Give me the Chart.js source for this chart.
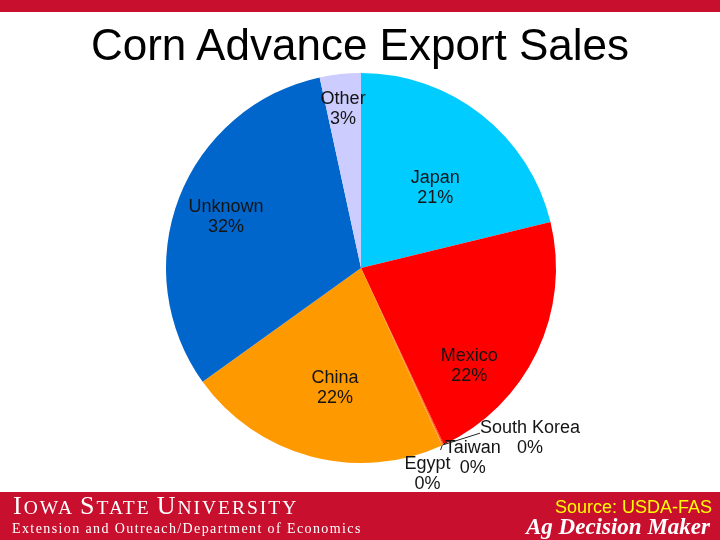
<!DOCTYPE html>
<html>
<head>
<meta charset="utf-8">
<script src="https://cdn.jsdelivr.net/npm/chart.js@4"></script>
<style>
  html, body { margin: 0; padding: 0; width: 720px; height: 540px; overflow: hidden; background: #ffffff; }
  #wrap { position: relative; width: 720px; height: 540px; }
  #topbar { position: absolute; left: 0; top: 0; width: 720px; height: 12px; background: #C8102E; }
  #title { position: absolute; left: 0; top: 20px; width: 720px; text-align: center;
           font-family: "Liberation Sans", Arial, sans-serif; font-size: 44px; color: #000; line-height: 50px; }
  canvas { position: absolute; left: 0; top: 0; }
  #footer { position: absolute; left: 0; top: 492px; width: 720px; height: 48px; background: #C8102E; }
  #isu { position: absolute; left: 13px; top: 0px; font-family: "Liberation Serif", "Times New Roman", serif;
         color: #fff; line-height: 28px; letter-spacing: 2px; white-space: nowrap; }
  #isu .b { font-size: 26px; }
  #isu .s { font-size: 19.5px; }
  #ext { position: absolute; left: 12px; top: 28px; font-family: "Liberation Serif", "Times New Roman", serif;
         font-size: 14px; color: #fff; line-height: 18px; letter-spacing: 1.4px; white-space: nowrap; }
  #src { position: absolute; right: 8px; top: 5px; font-family: "Liberation Sans", Arial, sans-serif;
         font-size: 18px; color: #FFFF00; line-height: 20px; }
  #adm { position: absolute; right: 10px; top: 22px; font-family: "Liberation Serif", "Times New Roman", serif;
         font-size: 23px; font-weight: bold; font-style: italic; color: #fff; line-height: 26px; }
</style>
</head>
<body>
<div id="wrap">
  <canvas id="c" width="720" height="540"></canvas>
  <div id="topbar"></div>
  <div id="title">Corn Advance Export Sales</div>
  <div id="footer">
    <div id="isu"><span class="b">I</span><span class="s">OWA</span> <span class="b">S</span><span class="s">TATE</span> <span class="b">U</span><span class="s">NIVERSITY</span></div>
    <div id="ext">Extension and Outreach/Department of Economics</div>
    <div id="src">Source: USDA-FAS</div>
    <div id="adm">Ag Decision Maker</div>
  </div>
</div>
<script>
// ---- data ----
const categories = ["Japan", "Mexico", "South Korea", "Taiwan", "Egypt", "China", "Unknown", "Other"];
const shares = [21.2, 21.8, 0.08, 0.05, 0.04, 21.9, 31.5, 3.4];
const sliceColors = ["#00CCFF", "#FF0000", "#FF3300", "#FF6600", "#FF8800", "#FF9900", "#0066CC", "#CCCCFF"];

// label placement (style): angle offset from slice middle (deg, clockwise), radius as fraction of outer radius
const labelPlacement = {
  "Japan":       { dAng: 4.6,   frac: 0.56 },
  "Mexico":      { dAng: 16.6,  frac: 0.75 },
  "South Korea": { dAng: -19.8, frac: 1.23 },
  "Taiwan":      { dAng: -5.7,  frac: 1.13 },
  "Egypt":       { dAng: 6.7,   frac: 1.11 },
  "China":       { dAng: -2.7,  frac: 0.63 },
  "Unknown":     { dAng: -0.3,  frac: 0.74 },
  "Other":       { dAng: -0.3,  frac: 0.82 }
};
const leaderEnds = {
  "South Korea": { dx: -50, dy: -5 },
  "Taiwan":      { dx: -26, dy: -16 },
  "Egypt":       { dx: 13, dy: -24 }
};

const labelPlugin = {
  id: 'sliceLabels',
  afterDatasetsDraw(chart) {
    const ctx = chart.ctx;
    const meta = chart.getDatasetMeta(0);
    const data = chart.data.datasets[0].data;
    const total = data.reduce((a, b) => a + b, 0);
    ctx.save();
    ctx.font = '18px "Liberation Sans", Arial, sans-serif';
    ctx.fillStyle = '#141414';
    ctx.textAlign = 'center';
    ctx.textBaseline = 'middle';
    meta.data.forEach((arc, i) => {
      const p = arc.getProps(['x', 'y', 'startAngle', 'endAngle', 'outerRadius'], true);
      const name = chart.data.labels[i];
      const pl = labelPlacement[name];
      const mid = (p.startAngle + p.endAngle) / 2 + pl.dAng * Math.PI / 180;
      const lx = p.x + Math.cos(mid) * p.outerRadius * pl.frac;
      const ly = p.y + Math.sin(mid) * p.outerRadius * pl.frac;
      const pct = Math.round(data[i] / total * 100) + '%';
      ctx.fillText(name, lx, ly - 10);
      ctx.fillText(pct, lx, ly + 10);
      if (leaderEnds[name]) {
        const m0 = (p.startAngle + p.endAngle) / 2;
        const ex = p.x + Math.cos(m0) * p.outerRadius;
        const ey = p.y + Math.sin(m0) * p.outerRadius;
        const le = leaderEnds[name];
        ctx.beginPath();
        ctx.strokeStyle = '#222';
        ctx.lineWidth = 1;
        ctx.moveTo(ex, ey);
        ctx.lineTo(lx + le.dx, ly + le.dy);
        ctx.stroke();
      }
    });
    ctx.restore();
  }
};

new Chart(document.getElementById('c'), {
  type: 'pie',
  data: {
    labels: categories,
    datasets: [{
      data: shares,
      backgroundColor: sliceColors,
      borderWidth: 0
    }]
  },
  options: {
    responsive: false,
    animation: false,
    layout: { padding: { left: 166, right: 164, top: 73, bottom: 77 } },
    plugins: { legend: { display: false }, tooltip: { enabled: false }, title: { display: false } }
  },
  plugins: [labelPlugin]
});
</script>
</body>
</html>
